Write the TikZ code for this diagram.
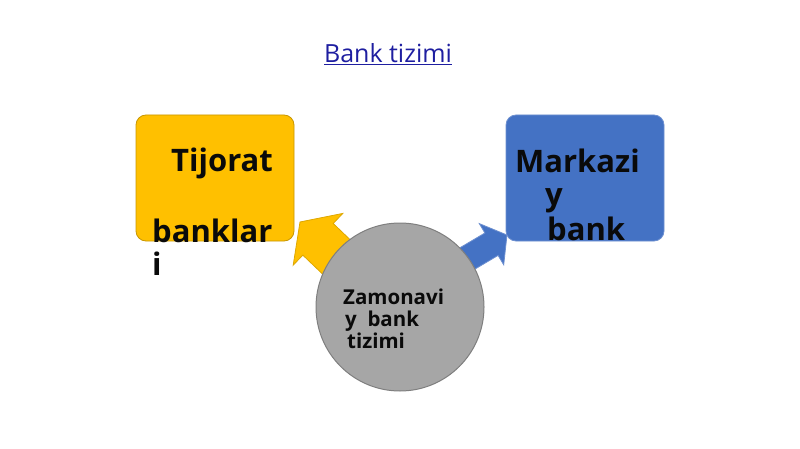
\documentclass[tikz,border=0pt]{standalone}
\usepackage{fontspec}
\setmainfont{Open Sans}
\definecolor{ybox}{HTML}{FFC000}
\definecolor{yedge}{HTML}{C89600}
\definecolor{bbox}{HTML}{4472C4}
\definecolor{bedge}{HTML}{6E90D0}
\definecolor{cfill}{HTML}{A6A6A6}
\definecolor{cedge}{HTML}{7F7F7F}
\definecolor{title}{HTML}{1E1EA0}
\definecolor{txt}{HTML}{0A0A0A}
\tikzset{
  boxshape/.style={rectangle, rounded corners=10pt, minimum width=158pt, minimum height=126pt, inner sep=0pt, line width=0.8pt},
  bigtxt/.style={anchor=base west, inner sep=0pt, text=txt, font=\fontsize{31}{31}\selectfont\bfseries},
  smalltxt/.style={anchor=base west, inner sep=0pt, text=txt, font=\fontsize{20.5}{20.5}\selectfont\bfseries},
  arrowshape/.style={line width=0.8pt, line join=miter}
}
\begin{document}
\begin{tikzpicture}[x=1pt,y=-1pt]
\useasboundingbox (0,0) rectangle (800,449);
% arrows
\draw[arrowshape, fill=ybox, draw=yedge!60!ybox]
  (354.8,244.2) -- (333.2,223.5) -- (342.8,213.4) -- (300,222) -- (293.2,265.2) -- (302.8,255.1) -- (324.4,275.8) -- cycle;
\draw[arrowshape, fill=bbox, draw=bedge]
  (454.8,250.8) -- (484.9,233) -- (479.3,223.6) -- (507,235) -- (503.7,264.8) -- (498.1,255.4) -- (468,273.2) -- cycle;
% circle
\node (c) [circle, minimum size=168pt, inner sep=0pt, fill=cfill, draw=cedge, line width=1pt] at (400,307) {};
% boxes
\node (yb) [boxshape, fill=ybox, draw=yedge] at (215,178) {};
\node (bb) [boxshape, fill=bbox, draw=bedge] at (585,178) {};
% title
\node (t) [anchor=base, inner sep=0pt, text=title, font=\fontsize{25}{25}\selectfont] at (388,63) {\underline{Bank tizimi}};
% yellow texts
\node (y1) [bigtxt] at (171,172) {Tijorat};
\node (y2) [bigtxt] at (152,242) {banklar};
\node (y3) [bigtxt] at (152,275) {i};
% blue texts
\node (b1) [bigtxt] at (515,173) {Markazi};
\node (b2) [bigtxt] at (545,206) {y};
\node (b3) [bigtxt] at (547,240) {bank};
% circle texts
\node (c1) [smalltxt] at (343,304) {Zamonavi};
\node (c2) [smalltxt] at (345,326) {y\ \ bank};
\node (c3) [smalltxt] at (347,348) {tizimi};
\end{tikzpicture}
\end{document}
